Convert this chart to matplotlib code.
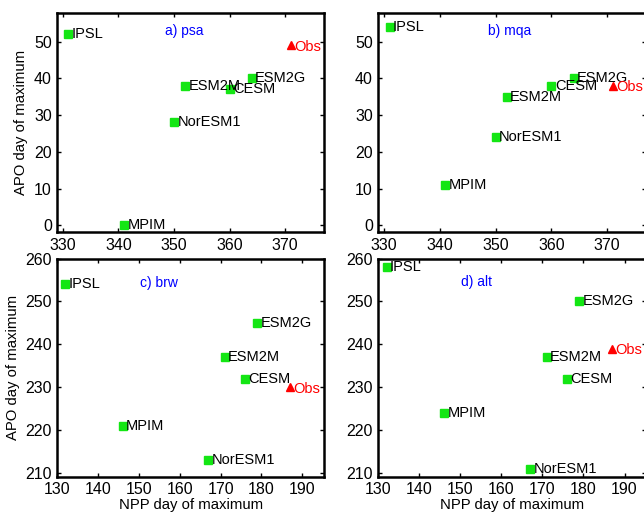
import numpy as np
import matplotlib
matplotlib.use('Agg')
import matplotlib.pyplot as plt

plt.rcParams['font.family'] = ['Liberation Sans', 'DejaVu Sans']

models = ['IPSL', 'MPIM', 'NorESM1', 'ESM2M', 'CESM', 'ESM2G']

# panel titles
titles = ['a) psa', 'b) mqa', 'c) brw', 'd) alt']

# NPP day of maximum (x) and APO day of maximum (y) for each station
npp_psa = [331, 341, 350, 352, 360, 364]
apo_psa = [52, 0, 28, 38, 37, 40]
npp_mqa = [331, 341, 350, 352, 360, 364]
apo_mqa = [54, 11, 24, 35, 38, 40]
npp_brw = [132, 146, 167, 171, 176, 179]
apo_brw = [254, 221, 213, 237, 232, 245]
npp_alt = [132, 146, 167, 171, 176, 179]
apo_alt = [258, 224, 211, 237, 232, 250]

# observations (x, y)
obs_psa = (371, 49)
obs_mqa = (371, 38)
obs_brw = (187, 230)
obs_alt = (187, 239)

xs = [npp_psa, npp_mqa, npp_brw, npp_alt]
ys = [apo_psa, apo_mqa, apo_brw, apo_alt]
obs = [obs_psa, obs_mqa, obs_brw, obs_alt]

fig = plt.figure(figsize=(6.44, 5.16), dpi=100)
W = 0.414
pos = [[0.089, 0.550, W, 0.424],
       [0.5875, 0.550, W + 0.002, 0.424],
       [0.089, 0.0765, W, 0.4225],
       [0.5875, 0.0765, W + 0.002, 0.4225]]
xlims = [(329, 377), (329, 377), (130, 195.3), (130, 195.3)]
ylims = [(-1.9, 57.7), (-1.9, 57.7), (209.2, 260), (209.2, 260)]
xticks = [np.arange(330, 371, 10)] * 2 + [np.arange(130, 191, 10)] * 2
yticks = [np.arange(0, 51, 10)] * 2 + [np.arange(210, 261, 10)] * 2
tpos = [(0.405, 0.918), (0.41, 0.918), (0.31, 0.887), (0.31, 0.89)]

green = '#14e614'
for i in range(4):
    ax = fig.add_axes(pos[i])
    ax.plot(xs[i], ys[i], 's', color=green, ms=5.5, mec=green, clip_on=False)
    for name, x, y in zip(models, xs[i], ys[i]):
        ax.annotate(name, (x, y), xytext=(2.5, 0), textcoords='offset points',
                    va='center', ha='left', fontsize=10.5, color='black')
    ax.plot(obs[i][0], obs[i][1], '^', color='red', ms=5.5, mec='red')
    ax.annotate('Obs', obs[i], xytext=(2.5, -1), textcoords='offset points',
                va='center', ha='left', fontsize=10.5, color='red')
    ax.text(tpos[i][0], tpos[i][1], titles[i], transform=ax.transAxes,
            color='blue', fontsize=10, va='center', ha='left')
    ax.set_xlim(xlims[i])
    ax.set_ylim(ylims[i])
    ax.set_xticks(xticks[i])
    ax.set_yticks(yticks[i])
    ax.tick_params(direction='in', top=True, right=True, length=3, width=1,
                   labelsize=11.5, pad=4)
    for s in ax.spines.values():
        s.set_linewidth(1.8)
    if i % 2 == 0:
        ax.set_ylabel('APO day of maximum', fontsize=10.7)
    if i >= 2:
        ax.set_xlabel('NPP day of maximum', fontsize=10.7, labelpad=1)

fig.savefig('out.png', dpi=100)
